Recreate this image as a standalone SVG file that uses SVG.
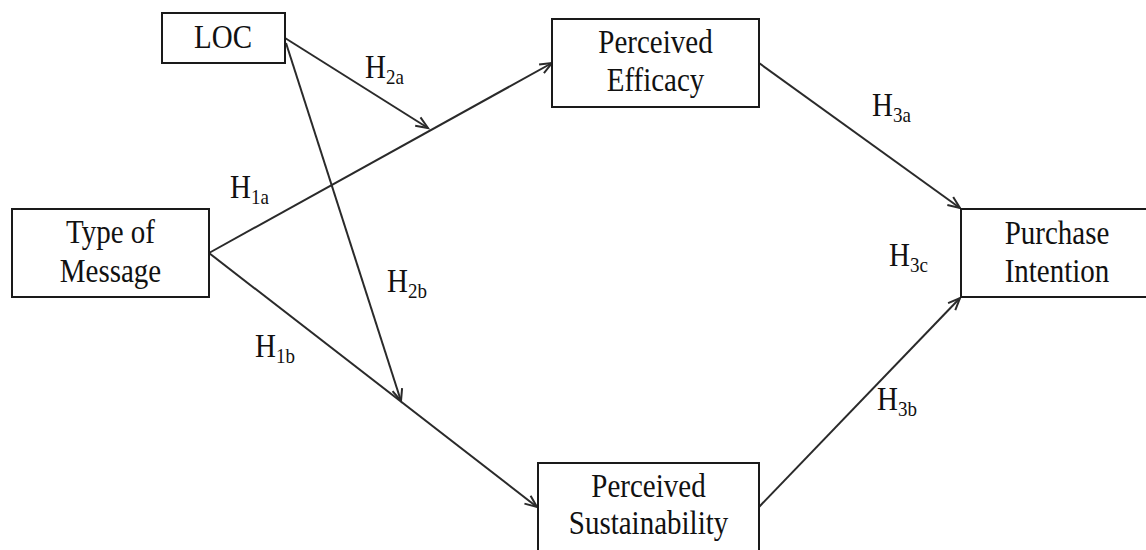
<svg xmlns="http://www.w3.org/2000/svg" width="1146" height="550" viewBox="0 0 1146 550">
<style>
.box{fill:#fff;stroke:#1a1a1a;stroke-width:2}
text{font-family:'Liberation Serif','Times New Roman',serif;font-size:29px;fill:#111}
.t{text-anchor:middle}
.s{font-size:19px}
.c{stroke:#2a2a2a;stroke-width:2;fill:none;marker-end:url(#arr)}
</style>
<defs>
<marker id="arr" markerUnits="userSpaceOnUse" markerWidth="16" markerHeight="14" refX="13" refY="6" orient="auto" viewBox="0 0 16 12">
<path d="M1,1 L13,6 L1,11" fill="none" stroke="#2a2a2a" stroke-width="2"/>
</marker>
</defs>
<rect width="1146" height="550" fill="#fff"/>
<g id="connectors">
<line class="c" x1="209" y1="253" x2="552" y2="63"/>
<line class="c" x1="209" y1="253" x2="537" y2="507"/>
<line class="c" x1="285" y1="38" x2="428" y2="128"/>
<line class="c" x1="286" y1="43" x2="401" y2="401"/>
<line class="c" x1="759" y1="63" x2="960" y2="208"/>
<line class="c" x1="759" y1="507" x2="960" y2="298"/>
</g>
<g id="node-loc">
<rect class="box" x="162" y="13" width="123" height="50"/>
<g transform="translate(223,48) scale(1,1.15)"><text class="t" x="0" y="0">LOC</text></g>
</g>
<g id="node-type-of-message">
<rect class="box" x="12" y="209" width="197" height="88"/>
<g transform="translate(110.5,243) scale(1,1.15)"><text class="t" x="0" y="0">Type of</text></g>
<g transform="translate(110.5,282) scale(1,1.15)"><text class="t" x="0" y="0">Message</text></g>
</g>
<g id="node-perceived-efficacy">
<rect class="box" x="552" y="19" width="207" height="88"/>
<g transform="translate(655.5,53) scale(1,1.15)"><text class="t" x="0" y="0">Perceived</text></g>
<g transform="translate(655.5,91) scale(1,1.15)"><text class="t" x="0" y="0">Efficacy</text></g>
</g>
<g id="node-perceived-sustainability">
<rect class="box" x="538" y="463" width="221" height="100"/>
<g transform="translate(648.5,497) scale(1,1.15)"><text class="t" x="0" y="0">Perceived</text></g>
<g transform="translate(648.5,534) scale(1,1.15)"><text class="t" x="0" y="0">Sustainability</text></g>
</g>
<g id="node-purchase-intention">
<rect class="box" x="961" y="209" width="200" height="88"/>
<g transform="translate(1057,244) scale(1,1.15)"><text class="t" x="0" y="0">Purchase</text></g>
<g transform="translate(1057,282) scale(1,1.15)"><text class="t" x="0" y="0">Intention</text></g>
</g>
<g id="labels">
<g transform="translate(230,198) scale(1,1.15)"><text x="0" y="0">H<tspan class="s" dy="5">1a</tspan></text></g>
<g transform="translate(255,357) scale(1,1.15)"><text x="0" y="0">H<tspan class="s" dy="5">1b</tspan></text></g>
<g transform="translate(365,78) scale(1,1.15)"><text x="0" y="0">H<tspan class="s" dy="5">2a</tspan></text></g>
<g transform="translate(387,292) scale(1,1.15)"><text x="0" y="0">H<tspan class="s" dy="5">2b</tspan></text></g>
<g transform="translate(872,116) scale(1,1.15)"><text x="0" y="0">H<tspan class="s" dy="5">3a</tspan></text></g>
<g transform="translate(877,410) scale(1,1.15)"><text x="0" y="0">H<tspan class="s" dy="5">3b</tspan></text></g>
<g transform="translate(889,266) scale(1,1.15)"><text x="0" y="0">H<tspan class="s" dy="5">3c</tspan></text></g>
</g>
</svg>
